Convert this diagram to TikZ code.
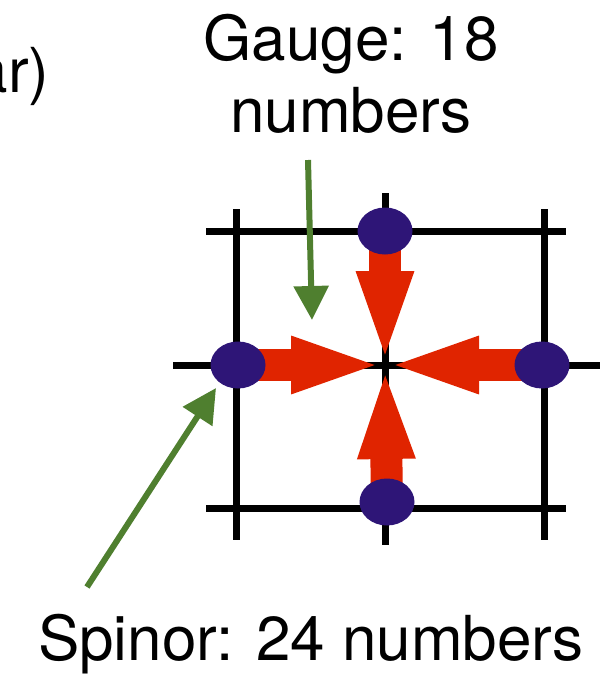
\documentclass[tikz,border=0pt]{standalone}
\usepackage{fontspec}
\setmainfont{TeX Gyre Heros}
\usepackage{tikz}
\usetikzlibrary{shapes.geometric, arrows.meta, backgrounds}
\definecolor{SiteRed}{HTML}{E02400}
\definecolor{SitePurple}{HTML}{2E1577}
\definecolor{PointerGreen}{HTML}{4F7F2F}
\tikzset{
    % Lattice and field styles
    lattice line/.style={
        line width=3.5pt,
        black
    },
    site/.style={
        ellipse,
        fill=SitePurple,
        inner sep=0pt,
        minimum width=27.5pt,
        minimum height=23.5pt
    },
    link arrow/.style={
        line width=16pt,
        SiteRed,
        -{Triangle[length=47pt, width=25pt]}
    },
    pointer arrow/.style={
        line width=3pt,
        PointerGreen,
        -{Triangle[length=17pt, width=17pt]}
    },
    big label/.style={
        font=\fontsize{31}{36}\selectfont,
        inner sep=0pt,
        align=center
    }
}

\begin{document}
\begin{tikzpicture}[x=0.5pt, y=-0.5pt]
        \useasboundingbox (0,0) rectangle (600,674);

        % Spinor sites
        \coordinate (centre) at (385,365);
        \node[site] (top) at (385,231) {};
        \node[site] (left) at (238,365) {};
        \node[site] (right) at (542,365) {};
        \node[site] (bottom) at (387,502) {};

        \begin{scope}[on background layer]
            % Lattice lines
            \draw[lattice line] (206,231) -- (566,231);
            \draw[lattice line] (173,365) -- (600,365);
            \draw[lattice line] (206,508) -- (566,508);
            \draw[lattice line] (236.5,209) -- (236.5,540);
            \draw[lattice line] (385,193) -- (385,545);
            \draw[lattice line] (544,209) -- (544,540);
            % Gauge links
            \draw[link arrow] (top.center) -- (centre);
            \draw[link arrow] (left.center) -- (centre);
            \draw[link arrow] (right.center) -- (centre);
            \draw[link arrow] (bottom.center) -- (centre);
        \end{scope}

        % Labels
        \node[big label, anchor=base east] (cut) at (50,93) {ar)};
        \node[big label, anchor=base] (gauge) at (351,133) {Gauge: 18\\numbers};
        \node[big label, anchor=base] (spinor) at (311,660) {Spinor: 24 numbers};

        % Pointers
        \coordinate (gauge tail) at (308,160);
        \coordinate (gauge tip) at (312,320);
        \coordinate (spinor tail) at (87,587);
        \coordinate (spinor tip) at (216,388);
        \draw[pointer arrow] (gauge tail) -- (gauge tip);
        \draw[pointer arrow] (spinor tail) -- (spinor tip);
    \end{tikzpicture}
\end{document}
